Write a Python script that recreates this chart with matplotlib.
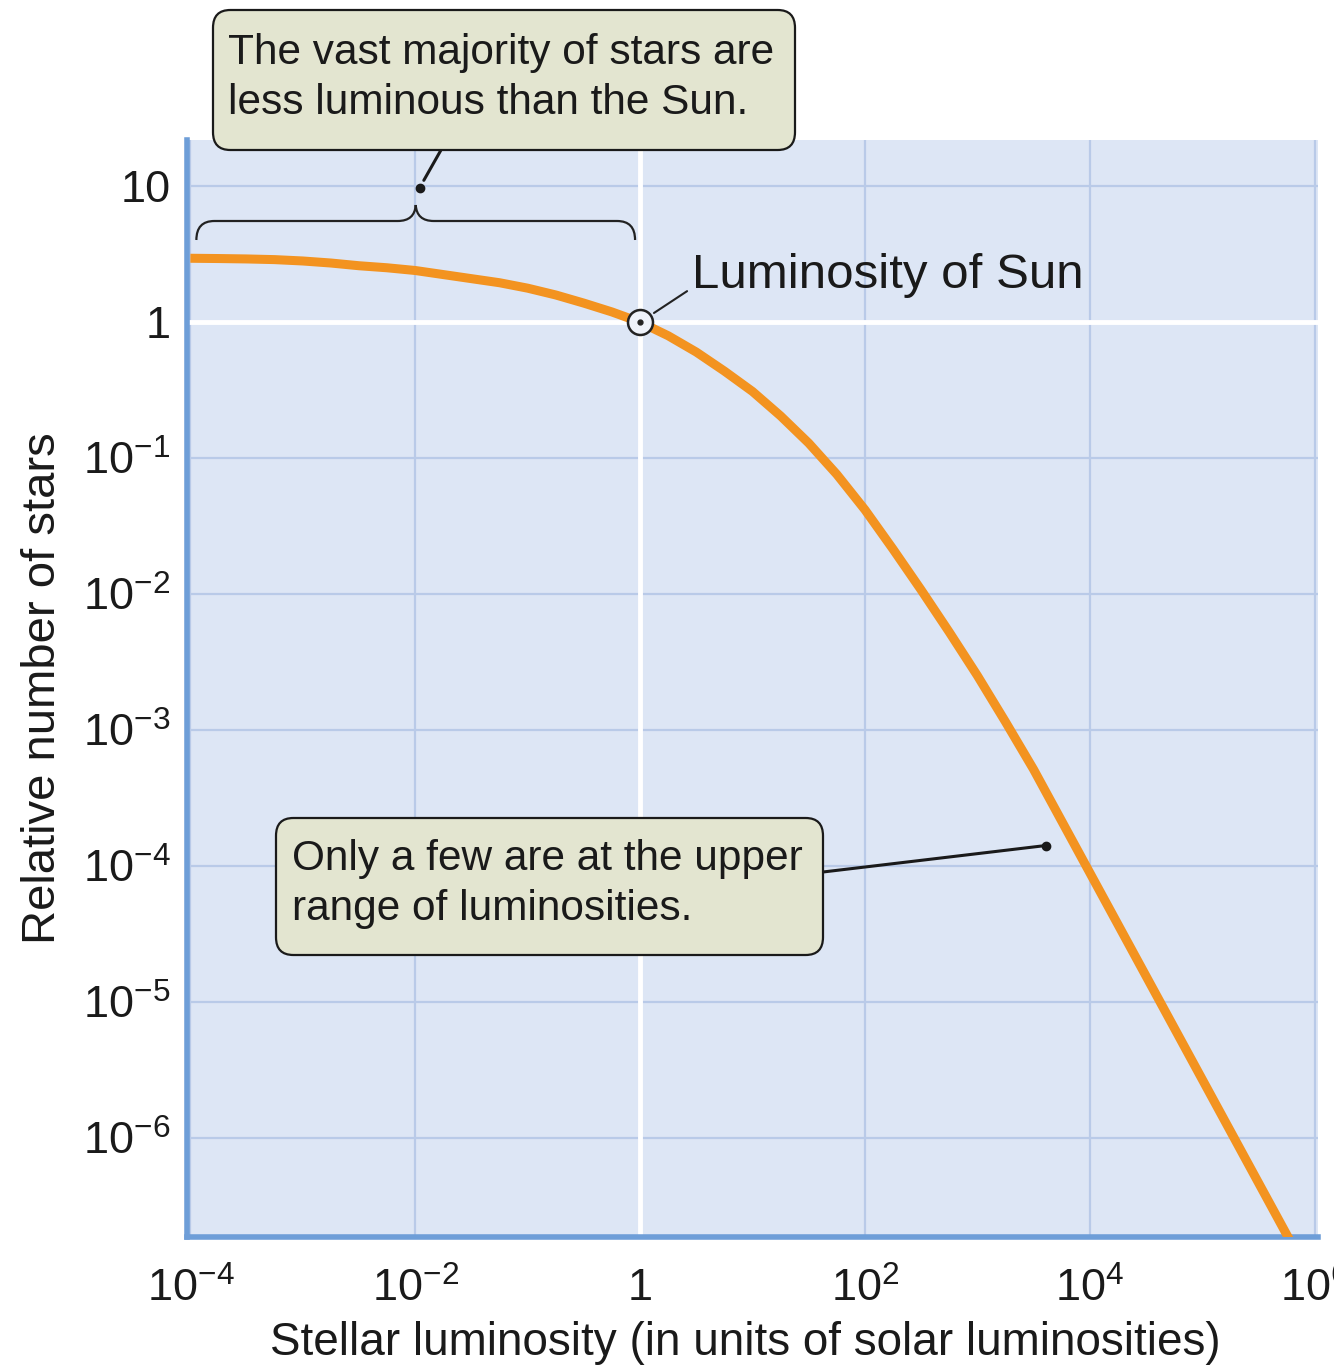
import numpy as np
import matplotlib
matplotlib.use('Agg')
import matplotlib.pyplot as plt
from matplotlib.patches import FancyBboxPatch, PathPatch
from matplotlib.path import Path

plt.rcParams['font.family'] = ['Liberation Sans', 'DejaVu Sans']
plt.rcParams['mathtext.fontset'] = 'custom'
plt.rcParams['mathtext.rm'] = 'Liberation Sans'
plt.rcParams['mathtext.it'] = 'Liberation Sans:italic'
plt.rcParams['mathtext.default'] = 'regular'

# luminosity function, as log10 values:
# log of luminosity (solar units) and log of relative number of stars
log_lum = [-4.0, -3.75, -3.5, -3.25, -3.0, -2.75, -2.5, -2.25, -2.0, -1.75,
           -1.5, -1.25, -1.0, -0.75, -0.5, -0.25, 0.0, 0.25, 0.5, 0.75,
           1.0, 1.25, 1.5, 1.75, 2.0, 2.25, 2.5, 2.75, 3.0, 3.25,
           3.5, 3.75, 4.0, 4.25, 4.5, 4.75, 5.0, 5.25, 5.5, 5.75, 5.85]
log_num = [0.47, 0.468, 0.465, 0.46, 0.45, 0.435, 0.415, 0.40, 0.38, 0.35,
           0.32, 0.29, 0.25, 0.20, 0.14, 0.075, 0.0, -0.10, -0.22, -0.36,
           -0.51, -0.69, -0.89, -1.12, -1.38, -1.67, -1.97, -2.28, -2.60, -2.94,
           -3.29, -3.67, -4.05, -4.43, -4.81, -5.19, -5.57, -5.95, -6.33, -6.71, -6.86]

x_ticks = [1e-4, 1e-2, 1, 1e2, 1e4, 1e6]
x_ticklabels = [r'$10^{-4}$', r'$10^{-2}$', '1', r'$10^{2}$', r'$10^{4}$', r'$10^{6}$']
y_ticks = [1e-6, 1e-5, 1e-4, 1e-3, 1e-2, 1e-1, 1, 10]
y_ticklabels = [r'$10^{-6}$', r'$10^{-5}$', r'$10^{-4}$', r'$10^{-3}$',
                r'$10^{-2}$', r'$10^{-1}$', '1', '10']

sun = (1.0, 1.0)
bright_marker = (10**3.61, 10**-3.85)
faint_marker = (10**-1.96, 10**0.99)

W, H = 1334, 1367
BG = '#dde6f5'
GRID = '#b9cae8'
SPINE = '#6e9ed8'
ORANGE = '#f39320'
BOXFILL = '#e3e5d0'
INK = '#1a1a1a'


def fpx(x, y):
    # pixel position (top-left origin) -> figure fraction
    return x / W, 1 - y / H


fig = plt.figure(figsize=(W / 100, H / 100), dpi=100)
ax = fig.add_axes([187 / W, 1 - 1237 / H, (1318 - 187) / W, (1237 - 140) / H])
ax.set_facecolor(BG)
ax.set_xscale('log')
ax.set_yscale('log')
ax.set_xlim(10**-4.03, 10**6.03)
ax.set_ylim(10**-6.73, 10**1.34)

ax.set_xticks(x_ticks)
ax.set_xticklabels(x_ticklabels)
ax.set_yticks(y_ticks)
ax.set_yticklabels(y_ticklabels)
ax.minorticks_off()
ax.tick_params(length=0, labelsize=32.5, labelcolor=INK)
ax.tick_params(axis='x', pad=22)
ax.tick_params(axis='y', pad=12)
ax.grid(True, color=GRID, lw=1.6)
ax.set_axisbelow(True)

for s in ['top', 'right']:
    ax.spines[s].set_visible(False)
for s in ['left', 'bottom']:
    ax.spines[s].set_color(SPINE)
    ax.spines[s].set_linewidth(4)

ax.axhline(1, color='white', lw=3.5, zorder=1)
ax.axvline(1, color='white', lw=3.5, zorder=1)

lum = 10.0 ** np.array(log_lum)
num = 10.0 ** np.array(log_num)
ax.plot(lum, num, color=ORANGE, lw=6.5, solid_capstyle='butt',
        solid_joinstyle='round', zorder=3)

ax.set_xlabel('Stellar luminosity (in units of solar luminosities)', fontsize=33, color=INK)
ax.set_ylabel('Relative number of stars', fontsize=34, color=INK)
ax.xaxis.set_label_coords(0.494, -0.077)
ax.yaxis.set_label_coords(-0.108, 0.5)

# sun symbol
ax.plot(*sun, marker='o', ms=18, mfc='#eef2fa', mec='#222222', mew=1.8, zorder=5)
ax.plot(*sun, marker='o', ms=3.5, color='#222222', zorder=6)
ax.annotate('', xy=sun, xytext=(47, 31), textcoords='offset pixels',
            arrowprops=dict(arrowstyle='-', color='#222222', lw=1.5, shrinkA=0, shrinkB=12))
ax.annotate('Luminosity of Sun', xy=sun, xytext=(52, 47), textcoords='offset pixels',
            ha='left', va='center', fontsize=35.5, color=INK)

# brace over the faint end
to_fig = fig.transFigure.inverted()
xl = to_fig.transform(ax.transData.transform((1e-4, 1)))[0] * W + 6
xr = to_fig.transform(ax.transData.transform((1, 1)))[0] * W - 5
xm = (xl + xr) / 2
y_end, y_flat, y_tip = 240, 221, 205
r = 18
verts = [(xl, y_end), (xl, y_flat), (xl + r, y_flat), (xm - r, y_flat),
         (xm - 1, y_flat), (xm, y_tip),
         (xm, y_tip), (xm + 1, y_flat), (xm + r, y_flat), (xr - r, y_flat),
         (xr, y_flat), (xr, y_end)]
codes = [Path.MOVETO, Path.CURVE3, Path.CURVE3, Path.LINETO,
         Path.CURVE3, Path.CURVE3,
         Path.MOVETO, Path.CURVE3, Path.CURVE3, Path.LINETO,
         Path.CURVE3, Path.CURVE3]
brace = Path([fpx(*v) for v in verts], codes)
fig.add_artist(PathPatch(brace, transform=fig.transFigure, fill=False,
                         ec='#222222', lw=1.6, zorder=4))

# callout boxes
box1 = FancyBboxPatch(fpx(213, 150), 582 / W, 140 / H,
                      boxstyle='round,pad=0,rounding_size=0.013',
                      transform=fig.transFigure, fc=BOXFILL, ec=INK, lw=1.6, zorder=5)
fig.add_artist(box1)
fig.text(*fpx(228, 78), 'The vast majority of stars are\nless luminous than the Sun.',
         ha='left', va='center', fontsize=30.5, color=INK, linespacing=1.33, zorder=6)

box2 = FancyBboxPatch(fpx(276, 955), 547 / W, 137 / H,
                      boxstyle='round,pad=0,rounding_size=0.013',
                      transform=fig.transFigure, fc=BOXFILL, ec=INK, lw=1.6, zorder=5)
fig.add_artist(box2)
fig.text(*fpx(292, 884), 'Only a few are at the upper\nrange of luminosities.',
         ha='left', va='center', fontsize=30.5, color=INK, linespacing=1.33, zorder=6)

# pointers from the boxes
ax.plot(*faint_marker, marker='o', ms=6, color=INK, zorder=6, clip_on=False)
ax.annotate('', xy=faint_marker, xytext=fpx(441, 150), textcoords='figure fraction',
            arrowprops=dict(arrowstyle='-', color=INK, lw=2.2, shrinkA=0, shrinkB=6))
ax.plot(*bright_marker, marker='o', ms=6, color=INK, zorder=6)
ax.annotate('', xy=bright_marker, xytext=fpx(823, 872), textcoords='figure fraction',
            arrowprops=dict(arrowstyle='-', color=INK, lw=2.2, shrinkA=0, shrinkB=0))

fig.savefig('out.png', dpi=100, facecolor='white')
